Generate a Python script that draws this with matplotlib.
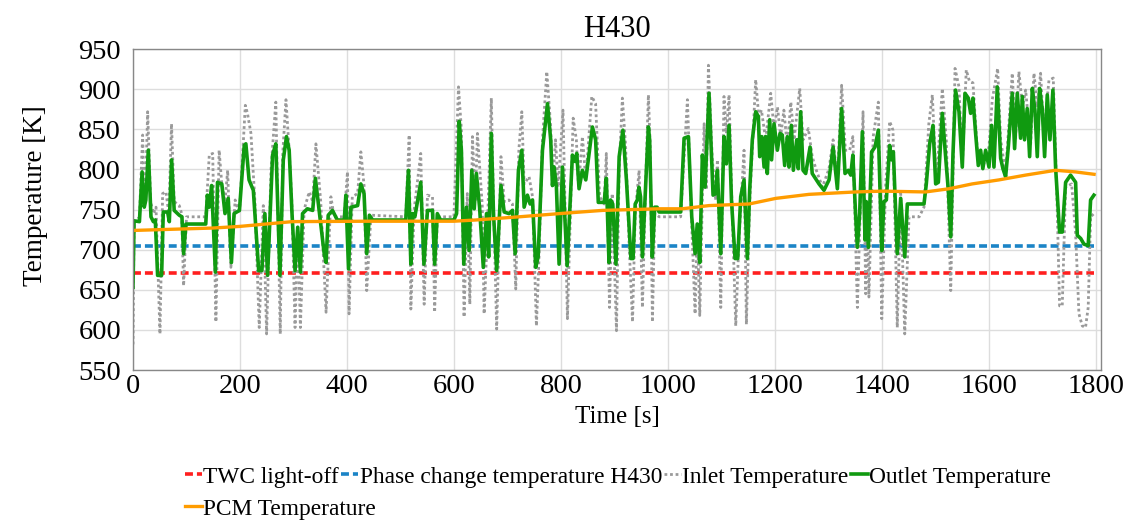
import numpy as np
import matplotlib.pyplot as plt

# --- data ---
twc_lightoff = 671.0
phase_change = 705.0
line_t_end = 1797.0

outlet_t = [0, 2, 12, 17, 21, 24, 28.6, 33.6, 38, 41.7, 46, 53.5, 56.6, 64.7, 67.9, 72.2, 77, 86.5, 91.5, 94.6,
            99, 136, 139, 142.6, 147, 154, 158, 166, 172, 178, 184, 189, 199, 208, 211, 217, 225, 235, 241, 246.6,
            251.6, 261, 267, 274.7, 281, 287, 292, 297, 303, 308, 313, 317, 326, 336, 341, 348, 357.5, 361, 365, 373,
            382, 395, 398, 403, 407.4, 420, 426, 432, 437, 442, 448, 510, 515, 519.5, 522.6, 527, 538, 544, 550.6, 560,
            564, 569, 575, 600, 605, 610, 614, 618.5, 623.5, 628.5, 633.5, 638, 642, 648, 655, 661, 665, 670, 674, 680,
            688, 694, 703, 709.5, 714.5, 720.7, 727, 731.3, 737.5, 742.5, 747, 753, 757.5, 765.6, 775, 781, 784.3, 787.4,
            791.7, 796.7, 803, 811.7, 821.6, 826.6, 829.7, 834, 840.3, 846.6, 859, 865, 870, 881, 885, 890, 893, 897,
            903, 909, 916, 922.6, 931, 935, 939, 943, 946, 949, 952.5, 959, 963.7, 966, 971, 975.5, 980, 983.7, 1024,
            1030.4, 1038.5, 1044.7, 1051, 1055, 1059.7, 1064.6, 1069.6, 1077, 1084.6, 1089.6, 1092.7, 1099, 1105, 1109.5,
            1114.5, 1119, 1125.7, 1130.7, 1136.3, 1142.5, 1148.7, 1153, 1158, 1164.3, 1169.3, 1171.8, 1175.5, 1180, 1183,
            1186, 1190.5, 1194, 1198.6, 1204.8, 1209.8, 1214, 1218.5, 1223.5, 1226.6, 1231, 1234.7, 1241, 1244, 1248.4,
            1252.8, 1257.8, 1266, 1270, 1277.7, 1282.7, 1292, 1301.4, 1309, 1317, 1325, 1331.3, 1337.5, 1342, 1346, 1351,
            1354.4, 1358.7, 1363.7, 1368.7, 1371, 1375, 1381, 1387.4, 1393.6, 1400, 1404, 1408.6, 1414.8, 1418.5, 1421.7,
            1429, 1435.4, 1443, 1447.8, 1479, 1483.3, 1489.6, 1495.8, 1500.8, 1505.8, 1513.2, 1520.7, 1524.5, 1529,
            1533.2, 1538, 1544.4, 1550.6, 1555.6, 1561.8, 1566.2, 1570.5, 1575.5, 1580.5, 1584.9, 1589, 1594.2, 1600.5,
            1605.4, 1609.8, 1616, 1622.3, 1626.6, 1631.6, 1636.6, 1644, 1648.4, 1653.4, 1659.6, 1662.8, 1667, 1672,
            1676.5, 1681.5, 1686.4, 1690.8, 1695.2, 1700, 1704.5, 1709.5, 1714.5, 1720, 1725, 1732.5, 1737.5, 1743.8,
            1753, 1762.5, 1765.6, 1772, 1778, 1786, 1790.5, 1796.7]
outlet_T = [653, 736, 735, 797, 753, 762, 824, 741, 735, 737, 668, 668, 747, 747, 735, 812, 749, 743, 741, 695,
            732, 732, 768, 753, 780, 672, 784, 782, 745, 764, 684, 745, 749, 830, 832, 787, 774, 674, 674, 745,
            668, 818, 832, 668, 812, 841, 824, 749, 674, 728, 672, 745, 751, 749, 789, 749, 695, 684, 743, 749,
            737, 737, 768, 676, 753, 755, 782, 770, 695, 743, 737, 737, 799, 682, 745, 741, 784, 682, 749, 749,
            682, 745, 737, 737, 745, 860, 824, 682, 753, 699, 799, 751, 795, 753, 678, 745, 691, 845, 745, 674,
            780, 747, 745, 749, 695, 799, 824, 753, 768, 757, 762, 678, 691, 824, 882, 837, 780, 803,
            778, 682, 803, 680, 818, 810, 820, 776, 799, 787, 853, 837, 759, 759, 789, 684, 762, 757,
            682, 816, 849, 787, 689, 689, 757, 762, 778, 766, 691, 787, 853, 837, 691, 753, 753, 747, 747,
            839, 841, 741, 695, 732, 684, 818, 778, 895, 768, 770, 799, 695, 841, 807,
            855, 762, 689, 689, 766, 787, 689, 774, 837, 872, 866, 816, 841, 803, 841,
            795, 862, 812, 857, 824, 845, 843, 805, 841, 803, 855, 799, 837, 801, 872,
            799, 795, 828, 795, 787, 782, 774, 787, 828, 776, 876, 795, 799, 793, 818, 745,
            703, 745, 847, 712, 760, 703, 822, 828, 849, 699, 760, 762, 830, 812, 822,
            695, 764, 691, 757, 757, 782, 832, 855, 782, 784, 870, 805, 774, 716,
            820, 899, 872, 803, 895, 889, 870, 889, 845, 805, 824, 801, 824, 803,
            855, 803, 903, 814, 801, 791, 828, 895, 826, 895, 839, 891, 837, 876,
            816, 901, 874, 816, 901, 876, 816, 893, 837, 899, 803, 722, 722, 784,
            793, 784, 718, 714, 707, 705, 762, 768]

inlet_t = [0, 2, 12, 18, 21, 24, 27.4, 33, 38, 43, 50.4, 55.4, 61.6, 67, 72, 77, 86.5, 91, 94.6, 100, 136, 142.6,
           149, 155, 161, 166, 172, 177, 183, 191, 199, 210, 214, 220.5, 228, 236, 243.6, 249.8, 258, 267, 275.3,
           280, 286, 292, 297, 303, 308, 313, 320, 329.5, 336, 342, 351, 361, 370, 376, 395, 401, 404, 410, 420,
           426, 432, 437, 445, 510, 516.4, 519.5, 525.7, 538, 544.4, 550.6, 560, 564, 569, 600, 608.6, 614, 619,
           625, 629.8, 634.7, 640, 644, 653, 656.5, 662, 670, 674, 680, 688, 694, 703, 709.5, 715.7, 721.5, 727,
           731.3, 740.6, 747, 754.3, 759, 765.6, 773.7, 781, 784.3, 790, 795, 804, 812.3, 823, 829, 833, 840.3,
           846.6, 857.8, 865, 872.5, 881, 885, 891, 896, 904, 909, 915, 921, 928, 934, 939, 946.3, 952.5, 959,
           963.7, 967, 971.2, 975.5, 984, 1024, 1036.6, 1044.7, 1051, 1055, 1059.7, 1067.8, 1072, 1075.9, 1083,
           1089.6, 1092.7, 1099, 1105, 1109.5, 1114.5, 1120, 1127, 1133, 1142.5, 1146.9, 1153, 1164.3, 1170, 1175,
           1183, 1192.4, 1198.6, 1205, 1211, 1217, 1223.5, 1230, 1236, 1246.6, 1252.8, 1262.7, 1270, 1277.7, 1289,
           1301.4, 1309, 1317, 1325, 1332, 1340, 1346, 1354.4, 1360, 1365, 1370, 1373, 1376, 1384, 1393.6, 1400,
           1407.4, 1414.8, 1421, 1429, 1435.4, 1443, 1451, 1470, 1479, 1488, 1494.6, 1502, 1513.2, 1520.7, 1529,
           1537, 1544.4, 1550.6, 1558, 1564, 1570.5, 1578.7, 1585, 1591, 1600.5, 1606.6, 1616.7, 1622.3, 1631.6,
           1644, 1650, 1656.5, 1663, 1669, 1678.4, 1684.6, 1691, 1697, 1703, 1712.6, 1720.7, 1728, 1732.5, 1737.5,
           1743.8, 1755, 1762.5, 1768.7, 1775, 1781, 1786, 1790.5, 1796.7]
inlet_T = [582, 736, 740, 843, 760, 790, 872, 760, 745, 753, 595, 770, 772, 745, 857, 760, 755, 745, 655, 741, 741, 818,
           820, 610, 824, 782, 760, 799, 678, 762, 745, 880, 870, 845, 760, 603, 755, 595, 800, 884, 595,
           820, 887, 824, 760, 603, 728, 603, 750, 772, 760, 832, 760, 622, 766, 741, 741, 797, 620, 766, 770,
           822, 780, 649, 743, 741, 843, 626, 750, 820, 632, 768, 766, 622, 741, 741, 903, 850, 616,
           770, 632, 841, 760, 845, 755, 620, 712, 889, 760, 601, 816, 760, 762, 757, 651, 825, 872,
           782, 791, 766, 605, 687, 837, 922, 853, 778, 837, 778, 874, 614, 864, 837, 778, 841,
           787, 891, 882, 766, 757, 820, 628, 770, 599, 800, 889, 830, 700, 610, 745, 799, 628, 795,
           893, 830, 610, 745, 741, 741, 887, 730, 620, 732, 618, 857, 775, 930, 815,
           762, 812, 628, 891, 845, 893, 755, 605, 712, 824, 607, 757, 912, 866, 874,
           837, 895, 850, 878, 841, 874, 828, 884, 837, 901, 837, 851, 816, 799, 778,
           801, 837, 787, 905, 824, 824, 841, 628, 753, 872, 645, 753, 641, 841, 884, 614,
           782, 860, 849, 603, 770, 595, 741, 741, 753, 857, 893, 782, 901, 837, 649,
           926, 903, 803, 924, 910, 908, 824, 816, 807, 828, 887, 926, 837, 795,
           920, 837, 922, 878, 899, 832, 920, 878, 920, 845, 911, 914, 753, 630, 630,
           778, 782, 720, 620, 605, 603, 628, 741, 745]

pcm_t = [0, 149, 199, 298, 442, 600, 640, 722, 797, 878, 984, 1027, 1077, 1152, 1202, 1264, 1351, 1401, 1482,
         1526, 1569, 1619, 1669, 1725, 1762, 1797]
pcm_T = [724, 727, 729, 735, 735.5, 735.5, 737, 741, 745, 749, 751, 751, 755, 757, 764, 769, 772, 773, 772,
         776, 782, 787, 793, 799, 797, 794]

plt.rcParams['font.family'] = ['Liberation Serif', 'DejaVu Serif']

fig = plt.figure(figsize=(11.31, 5.23), dpi=100)
ax = fig.add_axes([0.1176, 0.2925, 0.8559, 0.6135])

h_red, = ax.plot([0, line_t_end], [twc_lightoff, twc_lightoff], color='#ff1f1f', lw=2.6,
                 ls=(0, (2.2, 1.1)), label='TWC light-off')
h_blue, = ax.plot([0, line_t_end], [phase_change, phase_change], color='#1b84c6', lw=2.6,
                  ls=(0, (2.2, 1.1)), label='Phase change temperature H430')
h_in, = ax.plot(inlet_t, inlet_T, color='#9a9a9a', lw=2.0, ls=(0, (1, 1)), label='Inlet Temperature')
h_out, = ax.plot(outlet_t, outlet_T, color='#109a10', lw=2.6, label='Outlet Temperature')
h_pcm, = ax.plot(pcm_t, pcm_T, color='#ff9c00', lw=2.4, label='PCM Temperature')

ax.set_xlim(0, 1810)
ax.set_ylim(550, 950)
ax.set_xticks(np.arange(0, 1801, 200))
ax.set_yticks(np.arange(550, 951, 50))
ax.tick_params(length=0, labelsize=20.5)
ax.tick_params(axis='y', pad=8.5)
ax.tick_params(axis='x', pad=3)
ax.grid(True, color='#dddddd', lw=1.0)
ax.set_axisbelow(True)
for s in ax.spines.values():
    s.set_color('#888888')
    s.set_linewidth(1.0)

ax.set_title('H430', fontsize=22, pad=8.5)
ax.set_xlabel('Time [s]', fontsize=18)
ax.set_ylabel('Temperature [K]', fontsize=19.5)
ax.xaxis.set_label_coords(0.5, -0.112)
ax.yaxis.set_label_coords(-0.088, 0.542)

leg_kw = dict(frameon=False, fontsize=16.8, handlelength=0.72, handletextpad=0.06,
              columnspacing=0.1, borderaxespad=0, borderpad=0)
leg1 = fig.legend(handles=[h_red, h_blue, h_in, h_out], ncol=4, loc='center left',
                  bbox_to_anchor=(0.1636, 0.088), **leg_kw)
fig.legend(handles=[h_pcm], loc='center left', bbox_to_anchor=(0.1636, 0.027), **leg_kw)

fig.savefig('out.png', dpi=100)
